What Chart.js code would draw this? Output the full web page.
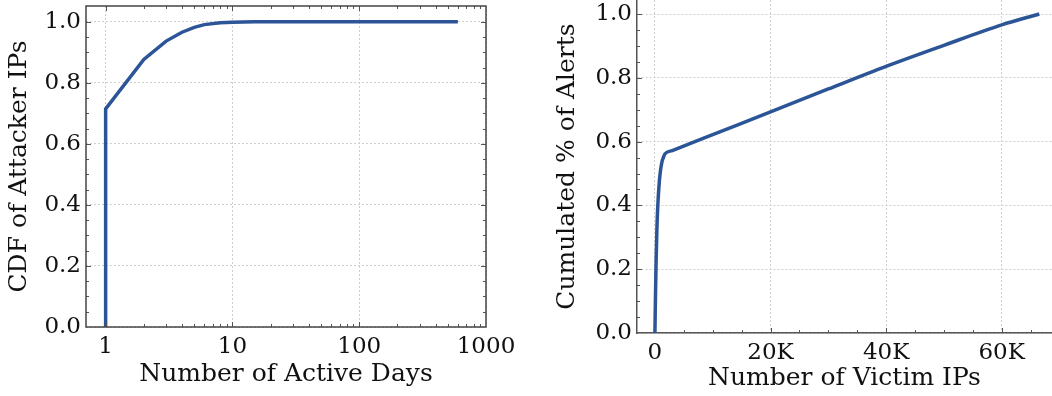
<!DOCTYPE html>
<html>
<head>
<meta charset="utf-8">
<script src="https://cdn.jsdelivr.net/npm/chart.js@4.4.1/dist/chart.umd.min.js"></script>
<style>
  body { margin: 0; background: #fff; }
  #wrap { position: relative; width: 1052px; height: 396px; overflow: hidden; }
  canvas { position: absolute; top: 0; }
</style>
</head>
<body>
<div id="wrap">
  <canvas id="daysChart" width="526" height="396" style="left:0"></canvas>
  <canvas id="victimChart" width="526" height="396" style="left:526px"></canvas>
</div>
<script>
// left panel: CDF of attacker IPs over number of active days
var activeDays = [1, 1, 2, 3, 4, 5, 6, 8, 10, 15, 600];
var cdfAttackers = [0, 0.715, 0.877, 0.937, 0.966, 0.982, 0.991, 0.997, 0.999, 1.0, 1.0];
var dayTicks = [1, 10, 100, 1000];

// right panel: cumulated share of alerts over number of victim IPs
var victimIPs = [0, 100, 200, 350, 500, 700, 900, 1200, 1500, 1750, 3000, 10000, 20000, 30000, 40000, 50000, 60000, 66500];
var alertShare = [0, 0.12, 0.22, 0.33, 0.40, 0.46, 0.50, 0.535, 0.552, 0.562, 0.572, 0.622, 0.693, 0.765, 0.836, 0.902, 0.966, 1.0];
var victimTicks = [0, 20000, 40000, 60000];
var victimLabels = ['0', '20K', '40K', '60K'];

var fractionTicks = [0, 0.2, 0.4, 0.6, 0.8, 1.0];

var FONT = 'DejaVu Serif';
var LINE = '#2c5597';
var GRID = '#cfcfcf';
var AXIS = '#555555';

function toPoints(xs, ys) {
    return xs.map(function (v, i) { return { x: v, y: ys[i] }; });
}

function fixTicks(values) {
    return function (scale) {
        scale.ticks = values.map(function (v) { return { value: v }; });
    };
}

// keep the plot box where it is, labels may hang over the edges
function fitX(h) {
    return function (s) { s.height = h; s.paddingLeft = 0; s.paddingRight = 0; };
}
function fitY(w) {
    return function (s) { s.width = w; s.paddingTop = 0; s.paddingBottom = 0; };
}

// small inward tick marks (major + minor), like the original plot
var innerTicks = {
    id: 'innerTicks',
    afterDraw: function (chart, args, opts) {
        var ctx = chart.ctx, a = chart.chartArea;
        var x = chart.scales.x, y = chart.scales.y;
        ctx.save();
        ctx.strokeStyle = AXIS;
        ctx.lineWidth = 1;
        ctx.beginPath();
        opts.xs.forEach(function (v) {
            var px = Math.round(x.getPixelForValue(v)) + 0.5;
            if (px < a.left || px > a.right) return;
            var len = opts.xMajor.indexOf(v) >= 0 ? 5 : 3;
            ctx.moveTo(px, a.bottom); ctx.lineTo(px, a.bottom - len);
            if (opts.box) { ctx.moveTo(px, a.top); ctx.lineTo(px, a.top + len); }
        });
        opts.ys.forEach(function (v) {
            var py = Math.round(y.getPixelForValue(v)) + 0.5;
            if (py < a.top || py > a.bottom) return;
            var len = fractionTicks.indexOf(v) >= 0 ? 5 : 3;
            ctx.moveTo(a.left, py); ctx.lineTo(a.left + len, py);
            if (opts.box) { ctx.moveTo(a.right, py); ctx.lineTo(a.right - len, py); }
        });
        ctx.stroke();
        if (opts.box) {
            ctx.strokeStyle = '#444';
            ctx.lineWidth = 1.5;
            ctx.strokeRect(a.left, a.top, a.right - a.left, a.bottom - a.top);
        }
        ctx.restore();
    }
};

var yMinor = [];
for (var k = 0; k <= 20; k++) yMinor.push(Math.round(k * 5) / 100);

var logMinor = [];
[1, 10, 100].forEach(function (d) {
    for (var m = 1; m <= 9; m++) logMinor.push(m * d);
});
logMinor.push(1000);

var linMinor = [];
for (var v = 0; v <= 65000; v += 5000) linMinor.push(v);

function titleFont() { return { family: FONT, size: 25 }; }
function tickFont() { return { family: FONT, size: 23 }; }

var ctxDays = document.getElementById('daysChart');
var daysChart = new Chart(ctxDays, {
    type: 'line',
    data: {
        datasets: [{
            data: toPoints(activeDays, cdfAttackers),
            borderColor: LINE,
            borderWidth: 3.5,
            pointRadius: 0,
            tension: 0,
            fill: false
        }]
    },
    options: {
        responsive: false,
        animation: false,
        layout: { padding: { top: 6, right: 40, left: 0, bottom: 0 } },
        plugins: {
            legend: { display: false },
            tooltip: { enabled: false },
            innerTicks: { xs: logMinor, xMajor: dayTicks, ys: yMinor, box: true }
        },
        scales: {
            x: {
                type: 'logarithmic',
                min: 0.72,
                max: 1000,
                afterBuildTicks: fixTicks(dayTicks),
                afterFit: fitX(69),
                grid: { color: GRID, drawTicks: false },
                border: { display: false, dash: [2, 2] },
                ticks: {
                    color: '#111',
                    font: tickFont(),
                    padding: 6,
                    maxRotation: 0,
                    autoSkip: false,
                    callback: function (value) { return String(value); }
                },
                title: { display: true, text: 'Number of Active Days', color: '#111', font: titleFont(), padding: { top: 0, bottom: 7 } }
            },
            y: {
                min: 0,
                max: 1.052,
                afterBuildTicks: fixTicks(fractionTicks),
                afterFit: fitY(86),
                grid: { color: GRID, drawTicks: false },
                border: { display: false, dash: [2, 2] },
                ticks: {
                    color: '#111',
                    font: tickFont(),
                    padding: 5,
                    callback: function (value) { return value.toFixed(1); }
                },
                title: { display: true, text: 'CDF of Attacker IPs', color: '#111', font: titleFont(), padding: { top: 4, bottom: 0 } }
            }
        }
    },
    plugins: [innerTicks]
});

var ctxVictim = document.getElementById('victimChart');
var victimChart = new Chart(ctxVictim, {
    type: 'line',
    data: {
        datasets: [{
            data: toPoints(victimIPs, alertShare),
            borderColor: LINE,
            borderWidth: 3.5,
            pointRadius: 0,
            cubicInterpolationMode: 'monotone',
            fill: false
        }]
    },
    options: {
        responsive: false,
        animation: false,
        layout: { padding: { top: 0, right: 0, left: 22, bottom: 0 } },
        plugins: {
            legend: { display: false },
            tooltip: { enabled: false },
            innerTicks: { xs: linMinor, xMajor: victimTicks, ys: yMinor, box: false }
        },
        scales: {
            x: {
                type: 'linear',
                min: -3100,
                max: 68700,
                afterBuildTicks: fixTicks(victimTicks),
                afterFit: fitX(63),
                grid: { color: GRID, drawTicks: false },
                border: { display: true, color: AXIS, width: 1.5, dash: [2, 2] },
                ticks: {
                    color: '#111',
                    font: tickFont(),
                    padding: 6,
                    maxRotation: 0,
                    autoSkip: false,
                    callback: function (value) { return victimLabels[victimTicks.indexOf(value)]; }
                },
                title: { display: true, text: 'Number of Victim IPs', color: '#111', font: titleFont(), padding: { top: 0, bottom: 3 } }
            },
            y: {
                min: 0,
                max: 1.044,
                afterBuildTicks: fixTicks(fractionTicks),
                afterFit: fitY(89),
                grid: { color: GRID, drawTicks: false },
                border: { display: true, color: AXIS, width: 1.5, dash: [2, 2] },
                ticks: {
                    color: '#111',
                    font: tickFont(),
                    padding: 5,
                    callback: function (value) { return value.toFixed(1); }
                },
                title: { display: true, text: 'Cumulated % of Alerts', color: '#111', font: titleFont(), padding: { top: 4, bottom: 0 } }
            }
        }
    },
    plugins: [innerTicks]
});
</script>
</body>
</html>
